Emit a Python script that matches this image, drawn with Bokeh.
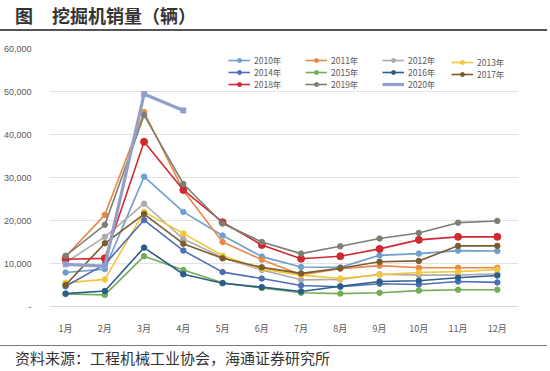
from bokeh.plotting import figure
from bokeh.models import Range1d, FixedTicker, NumeralTickFormatter, Legend, LegendItem, Div
from bokeh.layouts import column
from bokeh.embed import file_html
from bokeh.resources import INLINE

months = ["1月", "2月", "3月", "4月", "5月", "6月", "7月", "8月", "9月", "10月", "11月", "12月"]
month_pos = list(range(1, 13))
y_ticks = [0, 10000, 20000, 30000, 40000, 50000, 60000]

years = ["2010年", "2011年", "2012年", "2013年", "2014年", "2015年",
         "2016年", "2017年", "2018年", "2019年", "2020年"]
s2010 = [7900, 8700, 30200, 22000, 16500, 11600, 9200, 9100, 11900, 12300, 13000, 12900]
s2011 = [11600, 21300, 45200, 27000, 15000, 10900, 7400, 8800, 9500, 9000, 9000, 9000]
s2012 = [10200, 16200, 23900, 15700, 11400, 8500, 6200, 6300, 7500, 7300, 7300, 7600]
s2013 = [5500, 6300, 22000, 17000, 11800, 8700, 7300, 6500, 7400, 7900, 8100, 8600]
s2014 = [4700, 9800, 20100, 13000, 8000, 6500, 4900, 4600, 5300, 5100, 5800, 5600]
s2015 = [2900, 2700, 11700, 8500, 5500, 4300, 3200, 3000, 3200, 3700, 3900, 3900]
s2016 = [3000, 3600, 13700, 7500, 5400, 4500, 3500, 4700, 5800, 6000, 6700, 7200]
s2017 = [5000, 14700, 21500, 14600, 11200, 9100, 7700, 8900, 10400, 10600, 14100, 14100]
s2018 = [11000, 11200, 38300, 27100, 19600, 14300, 11100, 11700, 13400, 15500, 16200, 16200]
s2019 = [11800, 19000, 44500, 28500, 19300, 15000, 12300, 14000, 15800, 17100, 19500, 19900]
s2020 = [9800, 9400, 49400, 45600]
series = [s2010, s2011, s2012, s2013, s2014, s2015, s2016, s2017, s2018, s2019, s2020]

colors = ["#6E9FD0", "#E8884A", "#ABABAB", "#F5C53A", "#4E6EB8", "#73AD55",
          "#2B5D8A", "#7A5C2E", "#D02A30", "#7C7F74", "#939FCB"]

p = figure(width=528, height=301, output_backend="svg", toolbar_location=None,
           x_range=Range1d(0.59, 12.54), y_range=Range1d(0, 60000),
           min_border_left=47, min_border_right=10, min_border_top=12, min_border_bottom=30,
           background_fill_color="white", border_fill_color="white")
p.outline_line_color = None
p.xgrid.grid_line_color = None
p.ygrid.grid_line_color = "#e3e3e3"
p.ygrid.grid_line_width = 1

p.yaxis.ticker = FixedTicker(ticks=y_ticks)
p.yaxis.formatter = NumeralTickFormatter(format="0,0")
p.yaxis.major_label_overrides = {0: "-"}
p.yaxis.axis_line_color = None
p.yaxis.major_tick_line_color = None
p.yaxis.minor_tick_line_color = None
p.yaxis.major_label_standoff = 12
p.yaxis.major_label_text_font = "Liberation Sans"
p.yaxis.major_label_text_font_size = "9px"
p.yaxis.major_label_text_color = "#595959"

p.xaxis.ticker = FixedTicker(ticks=month_pos)
p.xaxis.major_label_overrides = {m: lab for m, lab in zip(month_pos, months)}
p.xaxis.axis_line_color = "#d9d9d9"
p.xaxis.major_tick_line_color = None
p.xaxis.minor_tick_line_color = None
p.xaxis.major_label_standoff = 9
p.xaxis.major_label_text_font = "Noto Sans CJK SC"
p.xaxis.major_label_text_font_size = "9px"
p.xaxis.major_label_text_color = "#595959"

items = []
for name, vals, col in zip(years, series, colors):
    xs = month_pos[:len(vals)]
    if name == "2020年":
        ln = p.line(xs, vals, line_color=col, line_width=3.2)
        mk = p.scatter(xs, vals, marker="square", size=5, fill_color=col, line_color=col)
        items.append(LegendItem(label=name, renderers=[ln]))
    else:
        ln = p.line(xs, vals, line_color=col, line_width=1.6)
        sz = 7 if name == "2018年" else 5.5
        mk = p.scatter(xs, vals, marker="circle", size=sz, fill_color=col, line_color=col)
        items.append(LegendItem(label=name, renderers=[ln, mk]))

cols = [[0, 4, 8], [1, 5, 9], [2, 6, 10], [3, 7]]
col_x = [179, 256, 333, 402]
for idx, cx in zip(cols, col_x):
    h = 10 * len(idx)
    lg = Legend(items=[items[i] for i in idx], location=(cx, 259 - 13 - h),
                orientation="vertical", padding=0, margin=0, spacing=0,
                label_height=10, glyph_height=10, glyph_width=22, label_standoff=4,
                label_text_font="Noto Sans CJK SC", label_text_font_size="8.5px",
                label_text_color="#595959", border_line_color=None,
                background_fill_alpha=0)
    p.add_layout(lg, "center")

title = Div(width=534, height=26, text=(
    '<div style="box-sizing:border-box;margin-left:-8px;width:550px;height:26px;'
    'border-bottom:2px solid #555;font-family:\'Noto Sans CJK SC\';font-weight:bold;'
    'font-size:18px;line-height:20px;color:#333;white-space:nowrap;padding-left:18px;">'
    '<span>图</span><span style="margin-left:19px">挖掘机销量（辆）</span></div>'))

source = Div(width=534, height=28, text=(
    '<div style="box-sizing:border-box;margin-top:3px;margin-left:-8px;width:550px;'
    'border-top:1px solid #777;font-family:\'Noto Sans CJK SC\';font-size:15px;'
    'line-height:24px;color:#333;white-space:nowrap;padding-left:18px;">'
    '资料来源：工程机械工业协会，海通证券研究所</div>'))

layout = column(title, p, source, spacing=0)
open("out.html", "w").write(file_html(layout, INLINE))
